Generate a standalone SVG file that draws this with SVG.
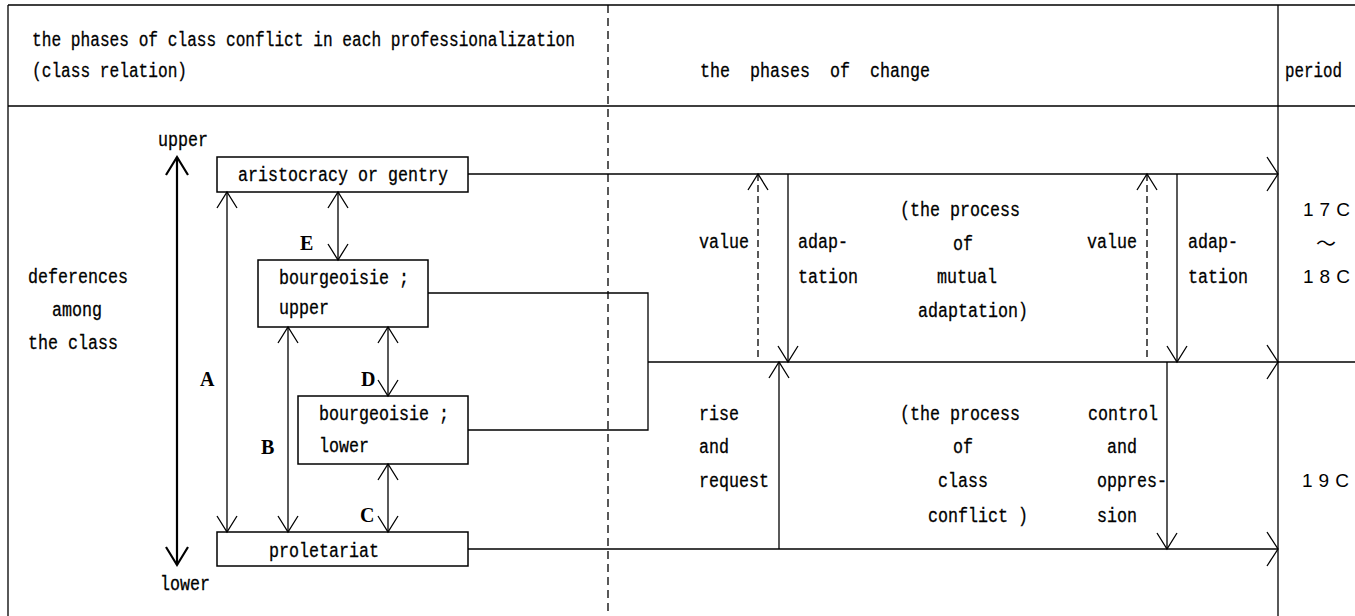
<svg xmlns="http://www.w3.org/2000/svg" width="1355" height="616" viewBox="0 0 1355 616">
  <style>
    .t { font-family: "Liberation Mono", "DejaVu Sans Mono", monospace; font-size: 20px; fill: #000; stroke: #000; stroke-width: 0.3; white-space: pre; }
    .lab { font-family: "Liberation Serif", "Times New Roman", serif; font-weight: bold; font-size: 20px; fill: #000; }
    .era { font-family: "Liberation Sans", Arial, sans-serif; font-size: 19px; letter-spacing: 6px; fill: #000; }
    .box { fill: #fff; stroke: #000; stroke-width: 1.5; }
    .ln { fill: none; stroke: #000; stroke-width: 1.3; }
    .dash { fill: none; stroke: #000; stroke-width: 1.3; stroke-dasharray: 7 4; }
    .thick { fill: none; stroke: #000; stroke-width: 2.2; }
  </style>
  <defs>
    <marker id="hv" markerUnits="userSpaceOnUse" markerWidth="20" markerHeight="24" refX="16" refY="10" orient="auto-start-reverse" overflow="visible">
      <path d="M0,0 L16,10 L0,20" fill="none" stroke="#000" stroke-width="1.3"/>
    </marker>
    <marker id="hr" markerUnits="userSpaceOnUse" markerWidth="14" markerHeight="36" refX="11" refY="17" orient="auto" overflow="visible">
      <path d="M0,0 L11,17 L0,34" fill="none" stroke="#000" stroke-width="1.3"/>
    </marker>
    <marker id="hb" markerUnits="userSpaceOnUse" markerWidth="22" markerHeight="26" refX="18" refY="11" orient="auto-start-reverse" overflow="visible">
      <path d="M0,0 L18,11 L0,22" fill="none" stroke="#000" stroke-width="2.2"/>
    </marker>
  </defs>

  <rect width="1355" height="616" fill="#fff"/>

  <!-- table frame -->
  <g id="frame">
    <path class="ln" d="M8,5 H1355 M8,5 V616 M8,106 H1355 M1278,5 V616"/>
    <path fill="none" stroke="#000" stroke-width="1.3" stroke-dasharray="8 5" d="M608,5 V616"/>
  </g>

  <!-- header row -->
  <g id="header">
    <text class="t" x="32" y="46" textLength="543" lengthAdjust="spacingAndGlyphs">the phases of class conflict in each professionalization</text>
    <text class="t" x="32" y="77" textLength="155" lengthAdjust="spacingAndGlyphs">(class relation)</text>
    <text class="t" x="700" y="77" textLength="230" lengthAdjust="spacingAndGlyphs">the  phases  of  change</text>
    <text class="t" x="1285" y="77" textLength="57" lengthAdjust="spacingAndGlyphs">period</text>
  </g>

  <!-- vertical scale of the classes -->
  <g id="scale">
    <text class="t" x="158" y="146" textLength="50" lengthAdjust="spacingAndGlyphs">upper</text>
    <path class="thick" d="M177,157 V565" marker-start="url(#hb)" marker-end="url(#hb)"/>
    <text class="t" x="160" y="590" textLength="50" lengthAdjust="spacingAndGlyphs">lower</text>
    <text class="t" x="28" y="283" textLength="100" lengthAdjust="spacingAndGlyphs">deferences</text>
    <text class="t" x="52" y="316" textLength="50" lengthAdjust="spacingAndGlyphs">among</text>
    <text class="t" x="28" y="349" textLength="90" lengthAdjust="spacingAndGlyphs">the class</text>
  </g>

  <!-- class nodes -->
  <g id="aristocracy">
    <rect class="box" x="217" y="157" width="251" height="35"/>
    <text class="t" x="238" y="181" textLength="210" lengthAdjust="spacingAndGlyphs">aristocracy or gentry</text>
  </g>
  <g id="bourgeoisie-upper">
    <rect class="box" x="258" y="260" width="170" height="67"/>
    <text class="t" x="279" y="284" textLength="130" lengthAdjust="spacingAndGlyphs">bourgeoisie ;</text>
    <text class="t" x="279" y="314" textLength="50" lengthAdjust="spacingAndGlyphs">upper</text>
  </g>
  <g id="bourgeoisie-lower">
    <rect class="box" x="298" y="396" width="170" height="68"/>
    <text class="t" x="319" y="420" textLength="130" lengthAdjust="spacingAndGlyphs">bourgeoisie ;</text>
    <text class="t" x="319" y="452" textLength="50" lengthAdjust="spacingAndGlyphs">lower</text>
  </g>
  <g id="proletariat">
    <rect class="box" x="217" y="532" width="251" height="34"/>
    <text class="t" x="269" y="557" textLength="110" lengthAdjust="spacingAndGlyphs">proletariat</text>
  </g>

  <!-- connectors -->
  <g id="connectors">
    <!-- relations between classes -->
    <path class="ln" d="M227,192 V532" marker-start="url(#hv)" marker-end="url(#hv)"/>
    <path class="ln" d="M338,192 V260" marker-start="url(#hv)" marker-end="url(#hv)"/>
    <path class="ln" d="M288,327 V532" marker-start="url(#hv)" marker-end="url(#hv)"/>
    <path class="ln" d="M388,327 V396" marker-start="url(#hv)" marker-end="url(#hv)"/>
    <path class="ln" d="M388,464 V532" marker-start="url(#hv)" marker-end="url(#hv)"/>

    <!-- class lines running to the period column -->
    <path class="ln" d="M468,174 H1278" marker-end="url(#hr)"/>
    <path class="ln" d="M428,293 H648 V362"/>
    <path class="ln" d="M468,430 H648 V362"/>
    <path class="ln" d="M648,362 H1278" marker-end="url(#hr)"/>
    <path class="ln" d="M1278,362 H1355"/>
    <path class="ln" d="M468,549 H1278" marker-end="url(#hr)"/>

    <!-- phases of change -->
    <path class="dash" d="M758,357 V174" marker-end="url(#hv)"/>
    <path class="ln" d="M788,174 V362" marker-end="url(#hv)"/>
    <path class="ln" d="M779,549 V362" marker-end="url(#hv)"/>
    <path class="dash" d="M1147,357 V174" marker-end="url(#hv)"/>
    <path class="ln" d="M1177,174 V362" marker-end="url(#hv)"/>
    <path class="ln" d="M1167,362 V549" marker-end="url(#hv)"/>
  </g>

  <!-- relation letters -->
  <g id="relation-labels">
    <text class="lab" font-size="18" x="300" y="250">E</text>
    <text class="lab" x="200" y="386">A</text>
    <text class="lab" x="361" y="386">D</text>
    <text class="lab" x="261" y="454">B</text>
    <text class="lab" x="360" y="522">C</text>
  </g>

  <!-- labels of the phases -->
  <g id="phase-labels">
    <text class="t" x="699" y="248" textLength="50" lengthAdjust="spacingAndGlyphs">value</text>
    <text class="t" x="798" y="248" textLength="50" lengthAdjust="spacingAndGlyphs">adap-</text>
    <text class="t" x="798" y="283" textLength="60" lengthAdjust="spacingAndGlyphs">tation</text>
    <text class="t" x="900" y="216" textLength="120" lengthAdjust="spacingAndGlyphs">(the process</text>
    <text class="t" x="953" y="250" textLength="20" lengthAdjust="spacingAndGlyphs">of</text>
    <text class="t" x="937" y="283" textLength="60" lengthAdjust="spacingAndGlyphs">mutual</text>
    <text class="t" x="918" y="317" textLength="110" lengthAdjust="spacingAndGlyphs">adaptation)</text>
    <text class="t" x="1087" y="248" textLength="50" lengthAdjust="spacingAndGlyphs">value</text>
    <text class="t" x="1188" y="248" textLength="50" lengthAdjust="spacingAndGlyphs">adap-</text>
    <text class="t" x="1188" y="283" textLength="60" lengthAdjust="spacingAndGlyphs">tation</text>

    <text class="t" x="699" y="420" textLength="40" lengthAdjust="spacingAndGlyphs">rise</text>
    <text class="t" x="699" y="453" textLength="30" lengthAdjust="spacingAndGlyphs">and</text>
    <text class="t" x="699" y="487" textLength="70" lengthAdjust="spacingAndGlyphs">request</text>
    <text class="t" x="900" y="420" textLength="120" lengthAdjust="spacingAndGlyphs">(the process</text>
    <text class="t" x="953" y="453" textLength="20" lengthAdjust="spacingAndGlyphs">of</text>
    <text class="t" x="938" y="487" textLength="50" lengthAdjust="spacingAndGlyphs">class</text>
    <text class="t" x="928" y="522" textLength="100" lengthAdjust="spacingAndGlyphs">conflict )</text>
    <text class="t" x="1088" y="420" textLength="70" lengthAdjust="spacingAndGlyphs">control</text>
    <text class="t" x="1107" y="453" textLength="30" lengthAdjust="spacingAndGlyphs">and</text>
    <text class="t" x="1097" y="487" textLength="70" lengthAdjust="spacingAndGlyphs">oppres-</text>
    <text class="t" x="1097" y="522" textLength="40" lengthAdjust="spacingAndGlyphs">sion</text>
  </g>

  <!-- periods -->
  <g id="periods">
    <text class="era" x="1303" y="216">17C</text>
    <text x="1326" y="251" text-anchor="middle" font-family="Noto Sans CJK JP, sans-serif" font-size="20">～</text>
    <text class="era" x="1303" y="283">18C</text>
    <text class="era" x="1302" y="487">19C</text>
  </g>
</svg>
